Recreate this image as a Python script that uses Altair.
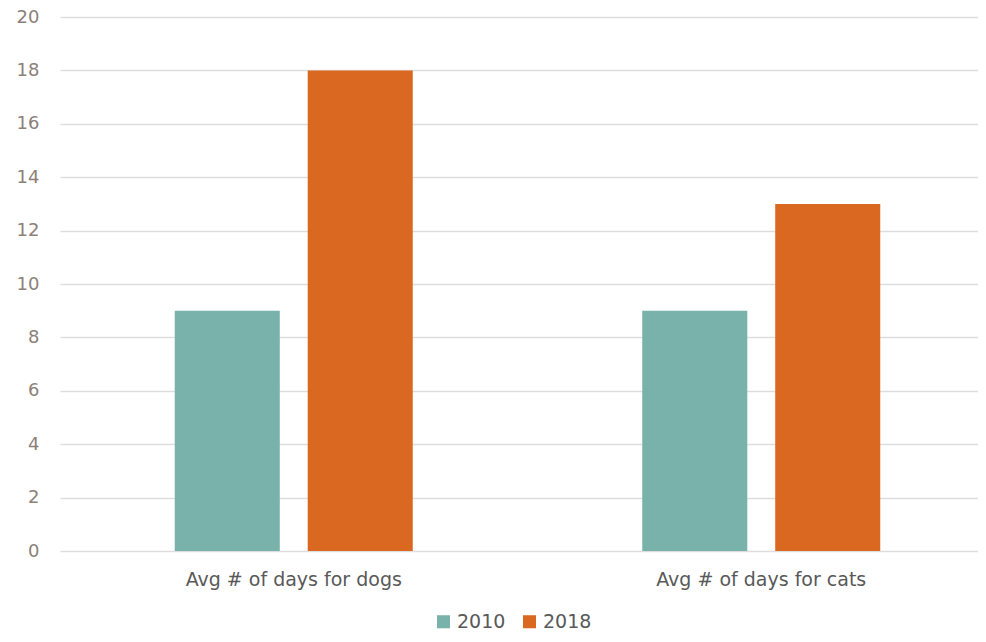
import altair as alt
import pandas as pd

categories = ["Avg # of days for dogs", "Avg # of days for cats"]
years = ["2010", "2018"]
values_2010 = [9, 9]
values_2018 = [18, 13]

rows = []
for c, v10, v18 in zip(categories, values_2010, values_2018):
    rows.append({"category": c, "year": "2010", "value": v10})
    rows.append({"category": c, "year": "2018", "value": v18})
df = pd.DataFrame(rows)

FONT = "DejaVu Sans"

chart = alt.Chart(df).mark_bar().encode(
    x=alt.X("category:N", sort=categories, title=None,
            scale=alt.Scale(range=[0, 935], paddingInner=0, paddingOuter=0),
            axis=alt.Axis(labelAngle=0, domain=False, ticks=False, labelPadding=19,
                          labelFontSize=19, labelColor="#595959", labelFont=FONT,
                          labelLimit=400, grid=False)),
    xOffset=alt.XOffset("year:N", sort=years,
                        scale=alt.Scale(paddingInner=0.21, paddingOuter=0.863)),
    y=alt.Y("value:Q", title=None,
            scale=alt.Scale(domain=[0, 20]),
            axis=alt.Axis(values=list(range(0, 21, 2)), domain=False, ticks=False,
                          labelPadding=21, labelFontSize=18, labelColor="#8C8079",
                          labelFont=FONT, gridColor="#DDDDDD", gridWidth=1.5)),
    color=alt.Color("year:N", sort=years, title=None,
                    scale=alt.Scale(domain=years, range=["#79B2AB", "#DA6820"]),
                    legend=alt.Legend(orient="none", legendX=374, legendY=595,
                                      direction="horizontal",
                                      symbolType="square", symbolSize=170,
                                      symbolStrokeWidth=0, labelFontSize=19,
                                      labelColor="#595959", labelFont=FONT,
                                      labelOffset=4, columnPadding=14)),
).properties(
    width=918, height=534,
    autosize=alt.AutoSizeParams(type="none"),
    padding={"left": 52, "top": 9, "right": 0, "bottom": 83},
).configure_view(stroke=None)

chart.save("out.html", embed_options={"renderer": "svg", "actions": False})
